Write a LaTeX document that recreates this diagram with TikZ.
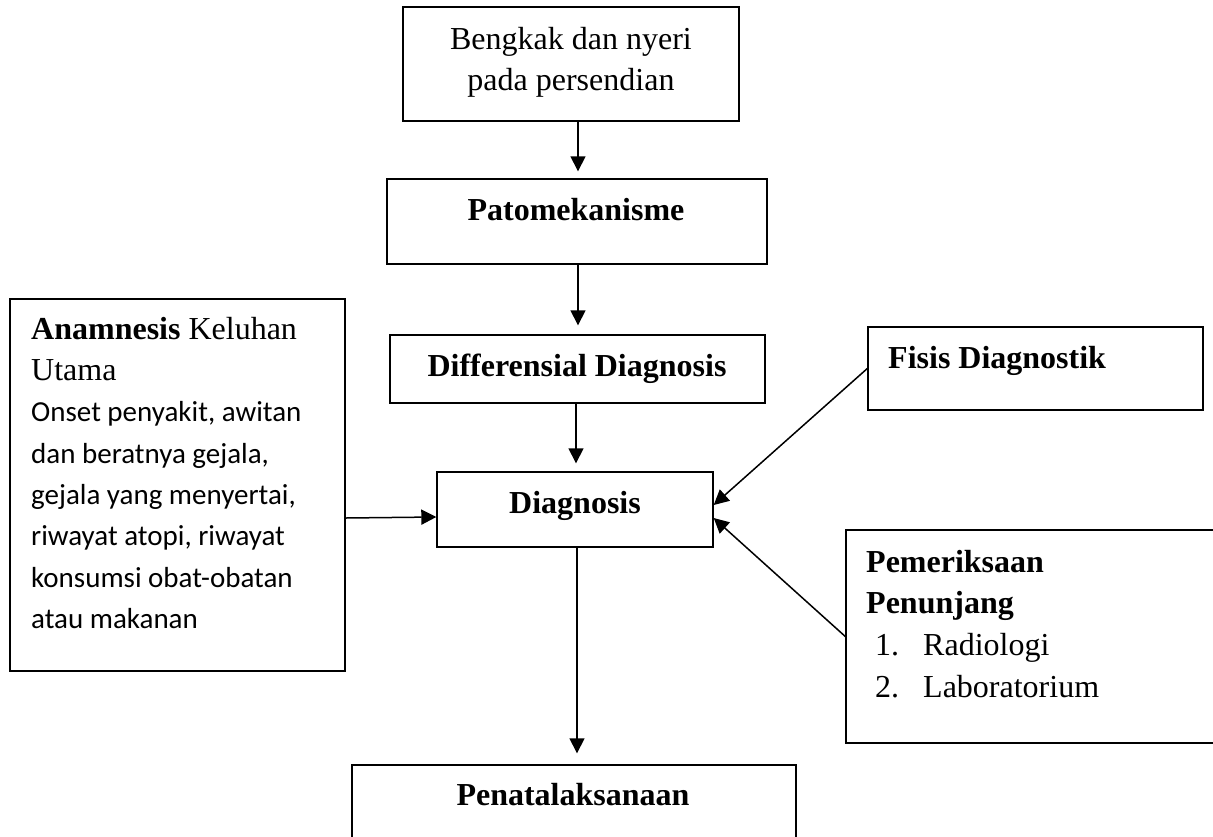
\documentclass[tikz,border=0pt]{standalone}
\usepackage{fontspec}
\setmainfont{Liberation Serif}
\newfontfamily\calfont{Carlito}
\usetikzlibrary{arrows.meta}
\newcommand\clf{\calfont\fontsize{29}{41.3}\selectfont\strut}
\begin{document}
\begin{tikzpicture}[x=1pt,y=-1pt,
  box/.style={draw, line width=1.4pt, inner sep=0pt},
  txt/.style={inner sep=0pt, font=\fontsize{32}{41}\selectfont},
  conn/.style={line width=1.5pt, -{Triangle[length=15pt,width=15pt]}}]
\useasboundingbox (0,0) rectangle (1213,836);
\clip (0,0) rectangle (1213,836);
\fill[white] (0,0) rectangle (1213,836);

% boxes
\node[box, minimum width=336pt, minimum height=114pt] (b1) at (571,64) {};
\node[box, minimum width=380pt, minimum height=85pt] (b2) at (577,221.5) {};
\node[box, minimum width=375pt, minimum height=68pt] (b3) at (577.5,369) {};
\node[box, minimum width=276pt, minimum height=75pt] (b4) at (575,509.5) {};
\node[box, minimum width=444pt, minimum height=85pt] (b5) at (574,807.5) {};
\node[box, minimum width=335pt, minimum height=372pt] (anam) at (177.5,485) {};
\node[box, minimum width=335pt, minimum height=83pt] (fisis) at (1035.5,368.5) {};
\node[box, minimum width=384pt, minimum height=213pt] (pem) at (1038,636.5) {};

% texts
\node[txt, align=center, anchor=north] (t1) at (571,20.3)
  {\strut Bengkak dan nyeri\\\strut pada persendian};
\node[txt, anchor=base] (t2) at (576,220) {\textbf{Patomekanisme}};
\node[txt, anchor=base] (t3) at (577,376) {\textbf{Differensial Diagnosis}};
\node[txt, anchor=base] (t4) at (575,513) {\textbf{Diagnosis}};
\node[txt, anchor=base] (t5) at (573,805) {\textbf{Penatalaksanaan}};
\node[txt, anchor=base west] (tf) at (888,368) {\textbf{Fisis Diagnostik}};
\node[inner sep=0pt, align=left, anchor=north west,
      font=\fontsize{32}{41.3}\selectfont] (ta) at (31,310.1)
  {\strut\textbf{Anamnesis} Keluhan\\
   \strut Utama\\
   \clf Onset penyakit, awitan\\
   \clf dan beratnya gejala,\\
   \clf gejala yang menyertai,\\
   \clf riwayat atopi, riwayat\\
   \clf konsumsi obat-obatan\\
   \clf atau makanan};
\node[inner sep=0pt, align=left, anchor=north west,
      font=\fontsize{32}{41.7}\selectfont] (tp) at (866,542.8)
  {\strut\textbf{Pemeriksaan}\\
   \strut\textbf{Penunjang}\\
   \strut\hspace*{9pt}\makebox[48pt][l]{1.}Radiologi\\
   \strut\hspace*{9pt}\makebox[48pt][l]{2.}Laboratorium};

% connectors
\draw[conn, shorten >=7pt] ([xshift=7pt]b1.south) -- ([xshift=7pt]b1.south |- b2.north);
\draw[conn, shorten >=9pt] ([xshift=1pt]b2.south) -- ([xshift=1pt]b2.south |- b3.north);
\draw[conn, shorten >=8pt] ([xshift=-1.5pt]b3.south) -- ([xshift=-1.5pt]b3.south |- b4.north);
\draw[conn, shorten >=11pt] ([xshift=2pt]b4.south) -- ([xshift=2pt]b4.south |- b5.north);
\draw[conn] ([yshift=-33pt]anam.east) -- ([yshift=-7.5pt]b4.west);
\draw[conn] (fisis.west) -- ([yshift=4.5pt]b4.east);
\draw[conn] (pem.west) -- ([yshift=-8.5pt]b4.east);
\end{tikzpicture}
\end{document}
